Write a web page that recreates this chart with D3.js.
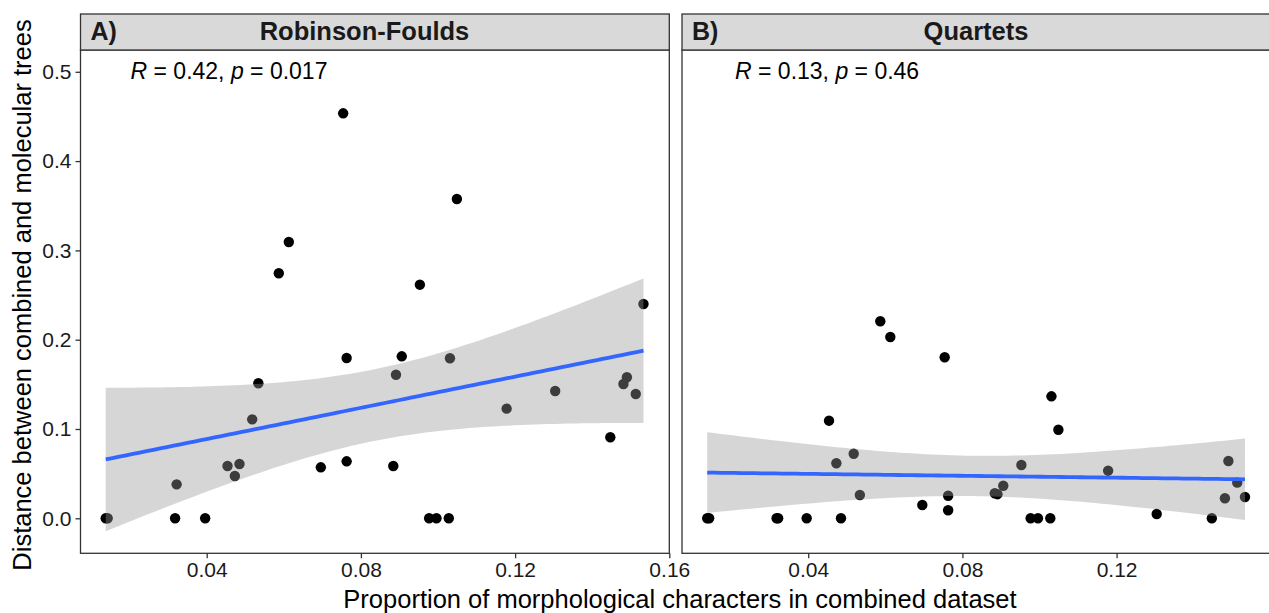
<!DOCTYPE html>
<html>
<head>
<meta charset="utf-8">
<script src="https://cdn.jsdelivr.net/npm/d3@7"></script>
<style>
  body { margin: 0; background: #fff; }
  svg { display: block; font-family: "Liberation Sans", Arial, sans-serif; }
</style>
</head>
<body>
<div class="chart"></div>
<script>
// proportion of morphological characters (shared by both panels)
const propMorph = [0.0138, 0.0143, 0.0318, 0.0322, 0.0396, 0.0454, 0.0473, 0.0485,
  0.0518, 0.0534, 0.0587, 0.0613, 0.0696, 0.0754, 0.0763, 0.0763,
  0.0884, 0.0891, 0.0906, 0.0953, 0.0977, 0.0996, 0.1028, 0.1031,
  0.1049, 0.1178, 0.1304, 0.1447, 0.1481, 0.1490, 0.1513, 0.1533];

// Robinson-Foulds distance
const rfDist = [0, 0, 0, 0.038, 0, 0.0586, 0.0474, 0.0608,
  0.1108, 0.1512, 0.2744, 0.3094, 0.0571, 0.4535, 0.0638, 0.1795,
  0.0586, 0.1608, 0.1814, 0.2616, 0, 0, 0, 0.1792,
  0.3576, 0.1228, 0.1426, 0.0907, 0.1504, 0.1579, 0.1392, 0.2400];

// Quartet distance
const qDist = [0, 0, 0, 0, 0, 0.1093, 0.0616, 0,
  0.0723, 0.0261, 0.2206, 0.2030, 0.0149, 0.1803, 0.0253, 0.0090,
  0.028, 0.027, 0.0365, 0.0597, 0, 0, 0, 0.1366,
  0.0992, 0.0533, 0.0048, 0, 0.0224, 0.0642, 0.0399, 0.0239];

const panelTags = ["A)", "B)"];
const panelTitles = ["Robinson-Foulds", "Quartets"];
const statLabels = [["0.42", "0.017"], ["0.13", "0.46"]];
const xTicksA = [0.04, 0.08, 0.12, 0.16];
const xTicksB = [0.04, 0.08, 0.12]; // 0.16 falls off the picture in panel B
const yTicks = [0, 0.1, 0.2, 0.3, 0.4, 0.5];

const W = 1269, H = 613;
const panelW = 588.8, panelTop = 50, panelBottom = 553.3, stripTop = 14;
const panelLeft = [80.5, 682];
const panelH = panelBottom - panelTop;

const svg = d3.select(".chart").append("svg")
  .attr("width", W).attr("height", H);

const x = d3.scaleLinear().domain([0.00726, 0.16]).range([0, panelW]);
const y = d3.scaleLinear().domain([-0.0392, 0.5244]).range([panelH, 0]);

// lm fit + 95% CI, like geom_smooth(method = "lm")
function lmFit(xs, ys) {
  const n = xs.length;
  const mx = d3.mean(xs), my = d3.mean(ys);
  let sxx = 0, sxy = 0;
  xs.forEach((v, i) => { sxx += (v - mx) ** 2; sxy += (v - mx) * (ys[i] - my); });
  const b = sxy / sxx, a = my - b * mx;
  let sse = 0;
  xs.forEach((v, i) => { sse += (ys[i] - a - b * v) ** 2; });
  const s = Math.sqrt(sse / (n - 2));
  const t = 2.0423; // qt(0.975, 30)
  const [lo, hi] = d3.extent(xs);
  return d3.range(80).map(k => {
    const x0 = lo + (hi - lo) * k / 79;
    const fit = a + b * x0;
    const se = s * Math.sqrt(1 / n + (x0 - mx) ** 2 / sxx);
    return { x: x0, fit, lo: fit - t * se, hi: fit + t * se };
  });
}

[rfDist, qDist].forEach((ys, p) => {
  const g = svg.append("g").attr("transform", `translate(${panelLeft[p]},${panelTop})`);

  // points
  g.selectAll("circle").data(propMorph).join("circle")
    .attr("cx", d => x(d))
    .attr("cy", (d, i) => y(ys[i]))
    .attr("r", 5.2)
    .attr("fill", "#000");

  // ribbon and line drawn over the points
  const fit = lmFit(propMorph, ys);
  g.append("path").datum(fit)
    .attr("d", d3.area().x(d => x(d.x)).y0(d => y(d.lo)).y1(d => y(d.hi)))
    .attr("fill", "#999999").attr("fill-opacity", 0.4);
  g.append("path").datum(fit)
    .attr("d", d3.line().x(d => x(d.x)).y(d => y(d.fit)))
    .attr("fill", "none").attr("stroke", "#3366FF").attr("stroke-width", 3.8);

  // panel border
  g.append("rect").attr("width", panelW).attr("height", panelH)
    .attr("fill", "none").attr("stroke", "#333").attr("stroke-width", 1.3);

  // strip
  svg.append("rect")
    .attr("x", panelLeft[p]).attr("y", stripTop)
    .attr("width", panelW).attr("height", panelTop - stripTop)
    .attr("fill", "#d9d9d9").attr("stroke", "#333").attr("stroke-width", 1.3);
  svg.append("text")
    .attr("x", panelLeft[p] + 10).attr("y", 40)
    .style("font-size", "25px").style("font-weight", "bold").attr("fill", "#1a1a1a")
    .text(panelTags[p]);
  svg.append("text")
    .attr("x", panelLeft[p] + (p === 0 ? 284 : 294)).attr("y", 40)
    .attr("text-anchor", "middle")
    .style("font-size", "25.5px").style("font-weight", "bold").attr("fill", "#1a1a1a")
    .text(panelTitles[p]);

  // R / p label
  const lab = g.append("text").attr("x", p === 0 ? 50 : 53).attr("y", 29)
    .style("font-size", "23px").attr("fill", "#000");
  lab.append("tspan").style("font-style", "italic").text("R");
  lab.append("tspan").text(` = ${statLabels[p][0]}, `);
  lab.append("tspan").style("font-style", "italic").text("p");
  lab.append("tspan").text(` = ${statLabels[p][1]}`);

  // x axis
  g.append("g").attr("transform", `translate(0,${panelH})`)
    .call(d3.axisBottom(x).tickValues(p === 0 ? xTicksA : xTicksB)
      .tickSize(5).tickPadding(4).tickFormat(d3.format(".2f")))
    .call(a => a.select(".domain").remove())
    .call(a => a.selectAll("line").attr("stroke", "#333").attr("stroke-width", 1.3))
    .call(a => a.selectAll("text").style("font-size", "21px").attr("fill", "#1a1a1a"));
});

// y axis (left panel only)
svg.append("g").attr("transform", `translate(${panelLeft[0]},${panelTop})`)
  .call(d3.axisLeft(y).tickValues(yTicks).tickSize(5).tickPadding(4).tickFormat(d3.format(".1f")))
  .call(a => a.select(".domain").remove())
  .call(a => a.selectAll("line").attr("stroke", "#333").attr("stroke-width", 1.3))
  .call(a => a.selectAll("text").style("font-size", "21px").attr("fill", "#1a1a1a"));

// axis titles
svg.append("text")
  .attr("x", 680).attr("y", 608)
  .attr("text-anchor", "middle").style("font-size", "25.5px")
  .text("Proportion of morphological characters in combined dataset");
svg.append("text")
  .attr("transform", `translate(31,${295}) rotate(-90)`)
  .attr("text-anchor", "middle").style("font-size", "25.5px")
  .text("Distance between combined and molecular trees");
</script>
</body>
</html>
